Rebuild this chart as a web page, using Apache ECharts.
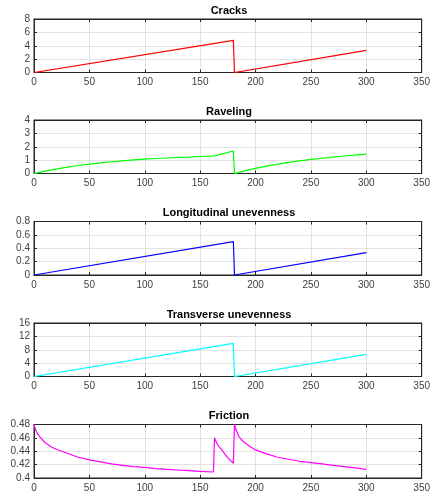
<!DOCTYPE html>
<html>
<head>
<meta charset="utf-8">
<script src="https://cdn.jsdelivr.net/npm/echarts@6/dist/echarts.min.js"></script>
<style>
  html, body { margin: 0; padding: 0; background: #fff; }
  #main { width: 433px; height: 499px; }
</style>
</head>
<body>
<div id="main"></div>
<script>
// panel titles
var titles = ['Cracks', 'Raveling', 'Longitudinal unevenness', 'Transverse unevenness', 'Friction'];
var colors = ['#ff0000', '#00ff00', '#0000ff', '#00ffff', '#ff00ff'];

// x axis 0..350
var xTicks = [0, 50, 100, 150, 200, 250, 300, 350];

// y axis ranges per panel
var yMin = [0, 0, 0, 0, 0.4];
var yMax = [8, 4, 0.8, 16, 0.48];
var yStep = [2, 1, 0.2, 4, 0.02];

// Cracks
var cracksX = [0, 180, 181, 300];
var cracksY = [0, 4.8, 0, 3.3];

// Raveling
var ravelX = [0, 10, 20, 30, 40, 50, 60, 70, 80, 90, 100, 110, 120, 130, 140, 150, 163, 180,
              181, 190, 200, 210, 220, 230, 240, 250, 260, 270, 280, 290, 300];
var ravelY = [0, 0.18, 0.33, 0.47, 0.6, 0.7, 0.8, 0.88, 0.95, 1.02, 1.08, 1.12, 1.16, 1.2, 1.23, 1.27, 1.32, 1.68,
              0, 0.2, 0.38, 0.55, 0.7, 0.83, 0.95, 1.05, 1.14, 1.23, 1.31, 1.38, 1.45];

// Longitudinal unevenness
var longX = [0, 180, 181, 300];
var longY = [0, 0.5, 0, 0.335];

// Transverse unevenness
var transX = [0, 180, 181, 300];
var transY = [0, 9.9, 0, 6.6];

// Friction
var fricX = [0, 1, 2, 3, 5, 7, 10, 15, 20, 30, 40, 50, 60, 70, 80, 90, 100, 110, 120, 130, 140, 150, 162,
             163, 165, 167, 170, 175, 180,
             181, 182, 183, 185, 187, 190, 195, 200, 210, 220, 230, 240, 250, 260, 270, 280, 290, 300];
var fricY = [0.48, 0.474, 0.47, 0.467, 0.462, 0.458, 0.453, 0.447, 0.443, 0.437, 0.431, 0.427, 0.424, 0.421, 0.419, 0.417, 0.416, 0.414, 0.413, 0.412, 0.411, 0.41, 0.409,
             0.46, 0.452, 0.447, 0.441, 0.43, 0.422,
             0.48, 0.474, 0.47, 0.462, 0.458, 0.453, 0.447, 0.442, 0.436, 0.431, 0.428, 0.425, 0.423, 0.421, 0.419, 0.417, 0.415, 0.413];

var xs = [cracksX, ravelX, longX, transX, fricX];
var ys = [cracksY, ravelY, longY, transY, fricY];

var plotTops = [19, 120, 221.5, 323, 424.5];
var plotH = 53.5;
var axisColor = '#262626';
var gridColor = '#e3e3e3';

function pairs(a, b) {
    var out = [];
    for (var i = 0; i < a.length; i++) {
        out.push([a[i], b[i]]);
    }
    return out;
}

var chart = echarts.init(document.getElementById('main'));

var grids = [], xAxes = [], yAxes = [], series = [], titleList = [];

for (var i = 0; i < 5; i++) {
    grids.push({
        left: 34, right: 9, top: plotTops[i], height: plotH,
        show: true, backgroundColor: '#fff', borderColor: axisColor, borderWidth: 1
    });
    titleList.push({
        text: titles[i],
        left: 229, top: plotTops[i] - 14,
        padding: 0,
        textAlign: 'center',
        textStyle: { fontFamily: 'Liberation Sans, Arial', fontSize: 11, fontWeight: 'bold', color: '#000' }
    });
    // bottom x axis with labels + grid
    xAxes.push({
        type: 'value', gridIndex: i, min: 0, max: 350, interval: 50,
        axisLine: { show: true, onZero: false, lineStyle: { color: axisColor } },
        axisTick: { show: true, inside: true, length: 3, lineStyle: { color: axisColor } },
        axisLabel: { show: true, margin: 5, fontSize: 10, color: '#404040', fontFamily: 'Liberation Sans, Arial' },
        splitLine: { show: true, lineStyle: { color: gridColor, width: 1 } }
    });
    // top x axis, ticks only
    xAxes.push({
        type: 'value', gridIndex: i, min: 0, max: 350, interval: 50, position: 'top',
        axisLine: { show: true, onZero: false, lineStyle: { color: axisColor } },
        axisTick: { show: true, inside: true, length: 3, lineStyle: { color: axisColor } },
        axisLabel: { show: false },
        splitLine: { show: false }
    });
    yAxes.push({
        type: 'value', gridIndex: i, min: yMin[i], max: yMax[i], interval: yStep[i],
        axisLine: { show: true, onZero: false, lineStyle: { color: axisColor } },
        axisTick: { show: true, inside: true, length: 3, lineStyle: { color: axisColor } },
        axisLabel: { show: true, margin: 4, fontSize: 10, color: '#404040', fontFamily: 'Liberation Sans, Arial' },
        splitLine: { show: true, lineStyle: { color: gridColor, width: 1 } }
    });
    yAxes.push({
        type: 'value', gridIndex: i, min: yMin[i], max: yMax[i], interval: yStep[i], position: 'right',
        axisLine: { show: true, onZero: false, lineStyle: { color: axisColor } },
        axisTick: { show: true, inside: true, length: 3, lineStyle: { color: axisColor } },
        axisLabel: { show: false },
        splitLine: { show: false }
    });
    series.push({
        type: 'line',
        xAxisIndex: i * 2, yAxisIndex: i * 2,
        data: pairs(xs[i], ys[i]),
        showSymbol: false, symbol: 'none',
        lineStyle: { color: colors[i], width: 1.2 },
        animation: false
    });
}

chart.setOption({
    animation: false,
    title: titleList,
    grid: grids,
    xAxis: xAxes,
    yAxis: yAxes,
    series: series
});
</script>
</body>
</html>
